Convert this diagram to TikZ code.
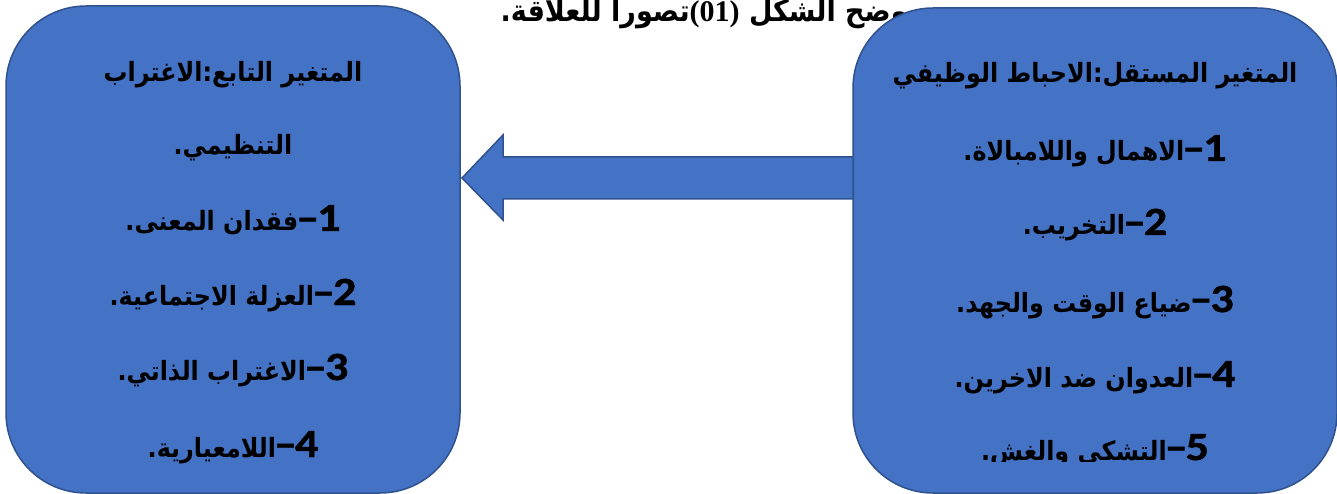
\documentclass[tikz,border=0pt]{standalone}
\usepackage{fontspec}
\TeXXeTstate=1
\newfontfamily\arabicfont[Script=Arabic,FakeStretch=0.9]{DejaVu Sans}
\newfontfamily\numfont[FakeStretch=1.15,FakeBold=1.2]{Carlito Bold}
\newfontfamily\titlenum{Liberation Serif}
\usetikzlibrary{calc}
\definecolor{boxblue}{HTML}{4472C4}
\definecolor{edgeblue}{HTML}{2F528F}
\newcommand{\itemnum}[1]{\hbox{\numfont\fontsize{40}{42}\selectfont #1}\kern-2pt\hbox{\numfont\fontsize{40}{42}\selectfont –}\kern-2pt}
\tikzset{
  bluebox/.style={draw=edgeblue, fill=boxblue, line width=1.5pt, rounded corners=80pt, rectangle, inner sep=0pt},
  arline/.style={font=\arabicfont\bfseries\fontsize{26.5}{30}\selectfont, inner sep=0pt, anchor=base},
  bigarrow/.style={draw=edgeblue, fill=boxblue, line width=1.5pt, line join=miter},
}
\begin{document}
\begin{tikzpicture}[x=1pt,y=-1pt]
\useasboundingbox (0,0) rectangle (1337,494);
% title
\node[anchor=base east, inner sep=0pt, font=\arabicfont\bfseries\fontsize{30}{32}\selectfont] (title) at (918,22)
  {\beginR يوضح الشكل \hbox{\titlenum\bfseries\fontsize{30}{32}\selectfont(01)}تصورا للعلاقة.\endR};
% arrow
\coordinate (tip) at (462,178);
\coordinate (tail) at (856,178);
\draw[bigarrow] (tip) -- ++(41,-43) -- ++(0,22) -- ($(tail)+(0,-21)$) -- ($(tail)+(0,21)$)
  -- ($(tip)+(41,21)$) -- ($(tip)+(41,42)$) -- cycle;
% boxes
\node[bluebox, minimum width=454pt, minimum height=487pt] (dep) at (233,249.5) {};
\node[bluebox, minimum width=484pt, minimum height=485pt] (indep) at (1095,250.5) {};
% left box text
\node[arline] (d1) at (233,82) {\beginR المتغير التابع:الاغتراب\endR};
\node[arline] (d2) at (233,155) {\beginR التنظيمي.\endR};
\node[arline] (d3) at (233,231) {\beginR\itemnum{1}فقدان المعنى.\endR};
\node[arline] (d4) at (233,305) {\beginR\itemnum{2}العزلة الاجتماعية.\endR};
\node[arline] (d5) at (233,380) {\beginR\itemnum{3}الاغتراب الذاتي.\endR};
\node[arline] (d6) at (233,457) {\beginR\itemnum{4}اللامعيارية.\endR};
% right box text
\node[arline] (i1) at (1095,83) {\beginR المتغير المستقل:الاحباط الوظيفي\endR};
\node[arline] (i2) at (1095,161) {\beginR\itemnum{1}الاهمال واللامبالاة.\endR};
\node[arline] (i3) at (1095,235) {\beginR\itemnum{2}التخريب.\endR};
\node[arline] (i4) at (1095,312) {\beginR\itemnum{3}ضياع الوقت والجهد.\endR};
\node[arline] (i5) at (1095,387) {\beginR\itemnum{4}العدوان ضد الاخرين.\endR};
\begin{scope}
\clip (853,0) rectangle (1337,461);
\node[arline] (i6) at (1095,460) {\beginR\itemnum{5}التشكي والغش.\endR};
\end{scope}
\end{tikzpicture}
\end{document}
